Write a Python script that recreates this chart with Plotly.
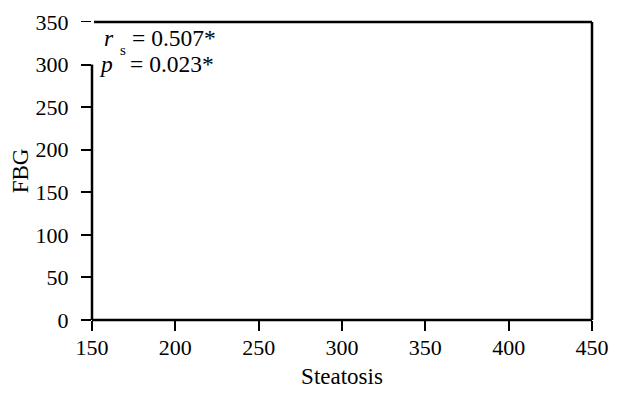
import plotly.graph_objects as go

# Data (no visible points in the reference)
steatosis = []
fbg = []

x_ticks = [150, 200, 250, 300, 350, 400, 450]
y_ticks = [0, 50, 100, 150, 200, 250, 300, 350]
rs_text = "= 0.507*"
p_text = "= 0.023*"

FONT = "'Liberation Serif', 'Times New Roman', Times, serif"

# the page body has an 8px margin; plot area should sit at window x 92..592, y 22..320
fig = go.Figure()
fig.add_trace(go.Scatter(x=steatosis, y=fbg, mode="markers",
                         marker=dict(color="black", size=6), showlegend=False))

fig.update_layout(
    width=626, height=393,
    margin=dict(l=84, r=42, t=14, b=81),
    paper_bgcolor="white", plot_bgcolor="white",
    font=dict(family=FONT, size=21.5, color="black"),
    xaxis=dict(range=[150, 450], tickvals=x_ticks, ticks="outside", ticklen=10,
               tickwidth=2, tickcolor="black", showgrid=False, zeroline=False,
               showline=False, automargin=False, ticklabelstandoff=-2,
               title=dict(text="Steatosis", standoff=8, font=dict(family=FONT, size=23)),
               tickfont=dict(family=FONT, size=22)),
    yaxis=dict(range=[0, 350], tickvals=y_ticks, ticks="outside", ticklen=10,
               tickwidth=2, tickcolor="black", showgrid=False, zeroline=False,
               showline=False, automargin=False, ticklabelstandoff=8,
               title=dict(text="FBG", standoff=8, font=dict(family=FONT, size=23)),
               tickfont=dict(family=FONT, size=22)),
)

line = dict(color="black", width=2.5)
# white patch hiding the 350 tick (as in reference)
fig.add_shape(type="rect", xref="paper", yref="y", x0=-0.024, x1=0.003, y0=303, y1=352,
              fillcolor="white", line=dict(width=0), layer="above")
# bottom
fig.add_shape(type="line", xref="paper", yref="paper", x0=0, x1=1, y0=0, y1=0, line=line, layer="above")
# right
fig.add_shape(type="line", xref="paper", yref="paper", x0=1, x1=1, y0=0, y1=1, line=line, layer="above")
# top
fig.add_shape(type="line", xref="paper", yref="paper", x0=0.004, x1=1, y0=1, y1=1, line=line, layer="above")
# left (stops at 300)
fig.add_shape(type="line", xref="paper", yref="y", x0=0, x1=0, y0=0, y1=300, line=line, layer="above")


def px(xp):
    return (xp - 92) / 500


def py(yp):
    return (320 - yp) / 298


fig.add_annotation(xref="paper", yref="paper", x=px(102), y=py(37.5), xanchor="left", yanchor="middle",
                   text="<i>r</i>", showarrow=False, font=dict(size=23.5, family=FONT))
fig.add_annotation(xref="paper", yref="paper", x=px(117.5), y=py(50), xanchor="left", yanchor="middle",
                   text="s", showarrow=False, font=dict(size=15, family=FONT))
fig.add_annotation(xref="paper", yref="paper", x=px(130), y=py(37.5), xanchor="left", yanchor="middle",
                   text=rs_text, showarrow=False, font=dict(size=23.5, family=FONT))
fig.add_annotation(xref="paper", yref="paper", x=px(97), y=py(64), xanchor="left", yanchor="middle",
                   text="<i>p</i>", showarrow=False, font=dict(size=23.5, family=FONT))
fig.add_annotation(xref="paper", yref="paper", x=px(127.5), y=py(64), xanchor="left", yanchor="middle",
                   text=p_text, showarrow=False, font=dict(size=23.5, family=FONT))

fig.write_html("out.html")
